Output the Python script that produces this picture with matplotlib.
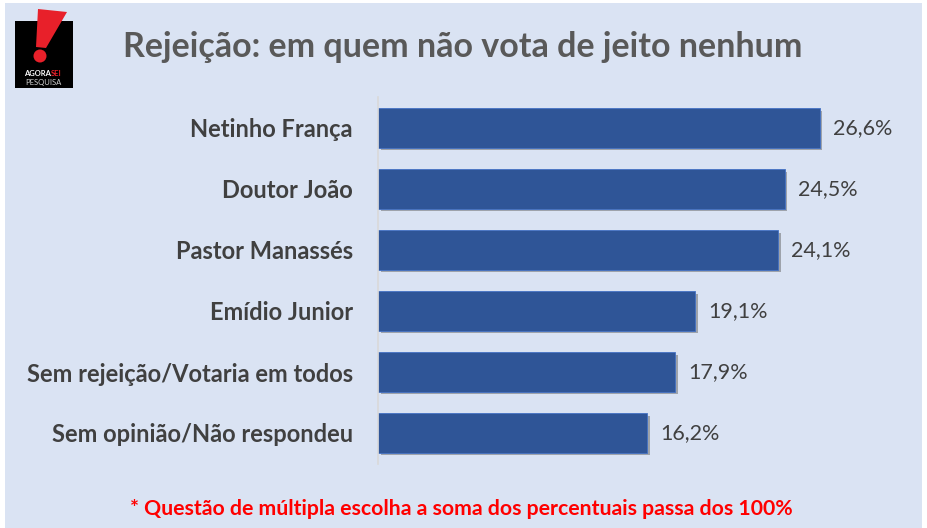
import matplotlib
matplotlib.use('Agg')
import matplotlib.pyplot as plt
import matplotlib.patheffects as pe
from matplotlib.patches import Rectangle, Polygon, Circle

# data
candidates = ['Netinho França', 'Doutor João', 'Pastor Manassés', 'Emídio Junior',
              'Sem rejeição/Votaria em todos', 'Sem opinião/Não respondeu']
rejection = [26.6, 24.5, 24.1, 19.1, 17.9, 16.2]
value_labels = ['26,6%', '24,5%', '24,1%', '19,1%', '17,9%', '16,2%']

title = 'Rejeição: em quem não vota de jeito nenhum'
footnote = '* Questão de múltipla escolha a soma dos percentuais passa dos 100%'

BG = '#DAE3F3'
BAR = '#2F5597'
TXT = '#404040'
FONT = 'Lato'

W, H = 927, 528
fig = plt.figure(figsize=(W / 100, H / 100), dpi=100)
fig.patch.set_facecolor('white')

# background panel + logo, drawn in pixel coords
bg = fig.add_axes([0, 0, 1, 1], zorder=-1)
bg.set_xlim(0, W)
bg.set_ylim(H, 0)
bg.axis('off')
bg.add_patch(Rectangle((5, 3), 917, 530, facecolor=BG, edgecolor='none'))

bg.add_patch(Rectangle((15, 21), 58, 67, facecolor='black', edgecolor='none'))
bg.add_patch(Polygon([(38, 9), (67, 12), (46, 48), (36, 47)], closed=True,
                     facecolor='#E8202A', edgecolor='none'))
bg.add_patch(Circle((40, 56), 6.5, facecolor='#E8202A', edgecolor='none'))
bg.text(51, 73, 'AGORA', color='white', fontsize=5.5, fontweight='bold',
        ha='right', va='center', family=FONT)
bg.text(51, 73, 'SEI', color='#E8202A', fontsize=5.5, fontweight='bold',
        ha='left', va='center', family=FONT)
bg.text(43, 82, 'PESQUISA', color='#D0D0D0', fontsize=5.5, ha='center',
        va='center', family=FONT)

bg.text(463, 47, title, color='#595959', fontsize=24.5, fontweight='bold',
        ha='center', va='center', family=FONT)
bg.text(461, 509, footnote, color='#FF0000', fontsize=15.3, fontweight='bold',
        ha='center', va='center', family=FONT)

# main bar chart
ax = fig.add_axes([378 / W, 1 - 463.5 / H, 498 / W, 366 / H])
ax.set_facecolor('none')
y = list(range(len(candidates)))
bars = ax.barh(y, rejection, height=0.64, color=BAR, edgecolor='#4472C4',
               linewidth=0.6)
for b in bars:
    b.set_path_effects([pe.SimplePatchShadow(offset=(2, -2), shadow_rgbFace='#555555',
                                             alpha=0.45), pe.Normal()])
for yi, v, lab in zip(y, rejection, value_labels):
    ax.text(v + 0.8, yi, lab, va='center', ha='left', color=TXT,
            fontsize=15.5, family=FONT)

ax.set_xlim(0, 30)
ax.set_ylim(len(candidates) - 0.5, -0.5)
ax.set_yticks(y)
ax.set_yticklabels(candidates, fontsize=17, fontweight='bold', color=TXT,
                   family=FONT)
ax.tick_params(axis='y', length=0, pad=18)
ax.set_xticks([])
for s in ['top', 'right', 'bottom']:
    ax.spines[s].set_visible(False)
ax.spines['left'].set_color('#D9D9D9')
ax.spines['left'].set_linewidth(1.2)

fig.savefig('out.png', dpi=100, facecolor=fig.get_facecolor())
